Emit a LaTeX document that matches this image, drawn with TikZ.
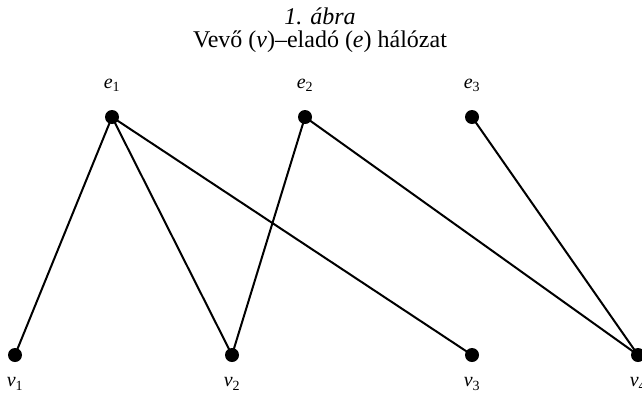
\documentclass[tikz,border=0pt]{standalone}
\usepackage{fontspec}
\setmainfont{Liberation Serif}
\usetikzlibrary{positioning}

\begin{document}
\begin{tikzpicture}[x=1pt, y=-1pt, node distance=12pt,
    every node/.style={font=\fontsize{20}{24}\selectfont},
    dot/.style={circle, fill, inner sep=0pt, minimum size=14pt},
    link/.style={line width=2pt}]
    \useasboundingbox (0,0) rectangle (642,394);
    \node[font=\fontsize{24}{28}\selectfont, anchor=base] (title) at (320,24) {\textit{1. ábra}};
    \node[font=\fontsize{24}{28}\selectfont, below=-1pt of title] (subtitle) {Vevő (\textit{v})--eladó (\textit{e}) hálózat};
    \node[dot] (e1) at (112,117) {};
    \node[dot] (e2) at (305,117) {};
    \node[dot] (e3) at (472,117) {};
    \node[dot] (v1) at (15,355) {};
    \node[dot] (v2) at (232,355) {};
    \node[dot] (v3) at (472,355) {};
    \node[dot] (v4) at (638,355) {};
    \node[above=15pt of e1] {\textit{e}\textsubscript{1}};
    \node[above=15pt of e2] {\textit{e}\textsubscript{2}};
    \node[above=15pt of e3] {\textit{e}\textsubscript{3}};
    \node[below=12pt of v1] {\textit{v}\textsubscript{1}};
    \node[below=12pt of v2] {\textit{v}\textsubscript{2}};
    \node[below=12pt of v3] {\textit{v}\textsubscript{3}};
    \node[below=12pt of v4] {\textit{v}\textsubscript{4}};
    \draw[link] (e1.center) -- (v1.center);
    \draw[link] (e1.center) -- (v2.center);
    \draw[link] (e1.center) -- (v3.center);
    \draw[link] (e2.center) -- (v2.center);
    \draw[link] (e2.center) -- (v4.center);
    \draw[link] (e3.center) -- (v4.center);
\end{tikzpicture}
\end{document}
